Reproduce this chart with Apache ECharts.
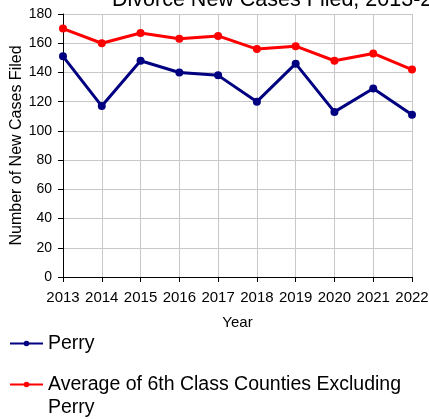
<!DOCTYPE html>
<html lang="en">
<head>
    <meta charset="UTF-8">
    <title>Divorce New Cases Filed</title>
    <script src="https://cdn.jsdelivr.net/npm/echarts@6/dist/echarts.min.js"></script>
    <style>
        html, body { margin: 0; padding: 0; background: #fff; }
    </style>
</head>
<body>
<div id="main" style="width: 429px;height:419px;"></div>

<script type="text/javascript">
    // 年份
    var years = ['2013', '2014', '2015', '2016', '2017', '2018', '2019', '2020', '2021', '2022'];
    // Perry
    var perry = [151, 117, 148, 140, 138, 120, 146, 113, 129, 111];
    // 6th Class counties average, Perry excluded
    var avgSixth = [170, 160, 167, 163, 165, 156, 158, 148, 153, 142];
    var yTicks = [0, 20, 40, 60, 80, 100, 120, 140, 160, 180];

    var font = 'Arial, "Liberation Sans", sans-serif';
    var avgName = 'Average of 6th Class Counties Excluding Perry';

    var myChart = echarts.init(document.getElementById('main'));

    var option = {
        animation: false,
        backgroundColor: '#fff',
        textStyle: { fontFamily: font },
        title: {
            text: 'Divorce New Cases Filed, 2013-2022',
            left: 107,
            top: -16,
            textStyle: { fontFamily: font, fontSize: 21.5, fontWeight: 'normal', color: '#000' }
        },
        legend: [{
            orient: 'vertical',
            left: 4,
            top: 327,
            itemWidth: 33,
            itemHeight: 7,
            data: ['Perry'],
            textStyle: { fontFamily: font, fontSize: 19.5, color: '#000', lineHeight: 23 }
        }, {
            orient: 'vertical',
            left: 4,
            top: 345,
            itemWidth: 33,
            itemHeight: 7,
            data: [avgName],
            // blank first line keeps the icon level with the first text line
            formatter: function (name) {
                return ' \n' + name.replace(' Perry', '\nPerry');
            },
            textStyle: { fontFamily: font, fontSize: 19.5, color: '#000', lineHeight: 23 }
        }],
        grid: {
            left: 63,
            right: 17,
            top: 14,
            bottom: 142,
            outerBoundsMode: 'none'
        },
        xAxis: {
            type: 'category',
            data: years,
            boundaryGap: false,
            name: 'Year',
            nameLocation: 'middle',
            nameGap: 38,
            nameMoveOverlap: false,
            nameTextStyle: { fontFamily: font, fontSize: 15, color: '#000' },
            axisLine: { lineStyle: { color: '#000', width: 1 } },
            axisTick: { show: true, length: 5, lineStyle: { color: '#000' } },
            axisLabel: { fontFamily: font, fontSize: 15, color: '#000', margin: 13, interval: 0 },
            splitLine: { show: true, lineStyle: { color: '#c8c8c8', width: 1 } }
        },
        yAxis: {
            type: 'value',
            min: yTicks[0],
            max: yTicks[yTicks.length - 1],
            interval: 20,
            name: 'Number of New Cases Filed',
            nameLocation: 'middle',
            nameGap: 38,
            nameMoveOverlap: false,
            nameTextStyle: { fontFamily: font, fontSize: 16, color: '#000' },
            axisLine: { show: true, lineStyle: { color: '#000', width: 1 } },
            axisTick: { show: true, length: 5, lineStyle: { color: '#000' } },
            axisLabel: { fontFamily: font, fontSize: 14, color: '#000', margin: 11 },
            splitLine: { show: true, lineStyle: { color: '#c8c8c8', width: 1 } }
        },
        series: [{
            name: 'Perry',
            type: 'line',
            data: perry,
            symbol: 'circle',
            symbolSize: 8,
            color: '#000080',
            lineStyle: { width: 3, color: '#000080' },
            itemStyle: { color: '#000080' }
        }, {
            name: avgName,
            type: 'line',
            data: avgSixth,
            symbol: 'circle',
            symbolSize: 8,
            color: '#ff0000',
            lineStyle: { width: 3, color: '#ff0000' },
            itemStyle: { color: '#ff0000' }
        }]
    };

    myChart.setOption(option);
</script>
</body>
</html>
